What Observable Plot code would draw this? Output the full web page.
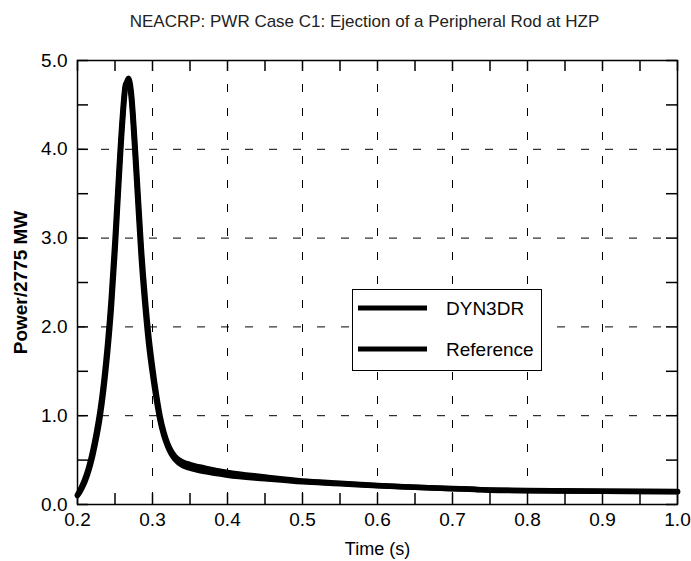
<!DOCTYPE html>
<html><head><meta charset="utf-8">
<script src="https://cdn.jsdelivr.net/npm/d3@7"></script>
<script src="https://cdn.jsdelivr.net/npm/@observablehq/plot@0.6"></script>
<style>
body{margin:0;background:#fff;font-family:"Liberation Sans",Arial,sans-serif;}
#wrap{position:relative;width:691px;height:561px;overflow:hidden;}
#title{height:40px;box-sizing:border-box;padding-top:13px;padding-left:38px;text-align:center;font-size:17px;line-height:18px;color:#222;white-space:nowrap;}
#legend{position:absolute;left:352px;top:289px;width:190px;height:82px;box-sizing:border-box;border:1.5px solid #000;background:#fff;}
</style></head>
<body>
<div id="wrap">
<div id="title">NEACRP: PWR Case C1: Ejection of a Peripheral Rod at HZP</div>
<div id="chart"></div>
<div id="legend"></div>
</div>
<script>
// ---- data ----
const time = [0.200,0.205,0.210,0.215,0.220,0.225,0.230,0.235,0.240,0.245,0.250,0.255,0.260,0.264,0.268,0.272,0.276,0.280,0.285,0.290,0.295,0.300,0.305,0.310,0.315,0.320,0.325,0.330,0.340,0.350,0.370,0.400,0.450,0.500,0.550,0.600,0.650,0.700,0.730,0.750,0.800,0.900,1.000];
const referencePower = [0.10,0.17,0.26,0.38,0.54,0.74,0.98,1.30,1.70,2.20,2.85,3.60,4.30,4.70,4.80,4.62,4.15,3.60,2.90,2.35,1.90,1.55,1.25,1.00,0.82,0.69,0.60,0.54,0.48,0.45,0.41,0.36,0.31,0.265,0.24,0.215,0.195,0.18,0.172,0.162,0.158,0.150,0.145];
const dyn3drPower = [0.11,0.19,0.29,0.42,0.59,0.80,1.05,1.38,1.80,2.32,2.98,3.72,4.38,4.73,4.76,4.55,4.05,3.48,2.78,2.24,1.80,1.47,1.19,0.95,0.78,0.66,0.57,0.51,0.44,0.41,0.37,0.33,0.29,0.255,0.235,0.21,0.193,0.178,0.170,0.160,0.156,0.149,0.144];
const seriesNames = ["DYN3DR","Reference"];
const xTicks = [0.2,0.3,0.4,0.5,0.6,0.7,0.8,0.9,1.0];
const xMinorTicks = [0.25,0.35,0.45,0.55,0.65,0.75,0.85,0.95];
const yTicks = [0,1,2,3,4,5];
const yMinorTicks = [0.5,1.5,2.5,3.5,4.5];
const xGrid = [0.3,0.4,0.5,0.6,0.7,0.8,0.9];
const yGrid = [1,2,3,4];

const rows = [];
time.forEach((t,i)=>{
  rows.push({series:"Reference", t, p: referencePower[i]});
  rows.push({series:"DYN3DR", t, p: dyn3drPower[i]});
});

const W = 691, H = 521, mT = 20, mB = 57, mL = 77, mR = 14;
const plotH = H - mT - mB, plotW = W - mL - mR;
const tick = 11;
const allX = xTicks.concat(xMinorTicks);
const allY = yTicks.concat(yMinorTicks);
const font = '"Liberation Sans", Arial, sans-serif';

const chart = Plot.plot({
  width: W, height: H,
  marginTop: mT, marginBottom: mB, marginLeft: mL, marginRight: mR,
  style: {fontFamily: font, color: "#000", background: "#fff", overflow: "visible"},
  x: {domain: [0.2, 1.0]},
  y: {domain: [0, 5]},
  marks: [
    Plot.ruleX(xGrid, {x: d=>d, stroke: "#000", strokeWidth: 1, strokeDasharray: "8,16"}),
    Plot.ruleY(yGrid, {y: d=>d, stroke: "#000", strokeWidth: 1, strokeDasharray: "8,16"}),
    Plot.ruleX(allX, {x: d=>d, insetTop: plotH - tick, stroke: "#000", strokeWidth: 1.5}),
    Plot.ruleX(allX, {x: d=>d, insetBottom: plotH - tick, stroke: "#000", strokeWidth: 1.5}),
    Plot.ruleY(allY, {y: d=>d, insetRight: plotW - tick, stroke: "#000", strokeWidth: 1.5}),
    Plot.ruleY(allY, {y: d=>d, insetLeft: plotW - tick, stroke: "#000", strokeWidth: 1.5}),
    Plot.line(rows, {x: "t", y: "p", z: "series", stroke: "#000", strokeWidth: 5.5, curve: "monotone-x", strokeLinejoin: "round"}),
    Plot.frame({stroke: "#000", strokeWidth: 1.5}),
    Plot.axisX(xTicks, {tickSize: 0, tickPadding: 8, fontSize: 19, tickFormat: d=>d.toFixed(1), label: null}),
    Plot.axisY(yTicks, {tickSize: 0, tickPadding: 10, fontSize: 19, tickFormat: d=>d.toFixed(1), label: null}),
    Plot.text(["Time (s)"], {frameAnchor: "bottom", dy: 45, text: d=>d, fontSize: 18, textAnchor: "middle", lineAnchor: "middle"}),
    Plot.text(["Power/2775 MW"], {frameAnchor: "left", dx: -57, rotate: -90, text: d=>d, fontSize: 19, fontWeight: "bold", textAnchor: "middle", lineAnchor: "middle"})
  ]
});
document.getElementById("chart").appendChild(chart);

// legend
const lg = d3.select("#legend").append("svg").attr("width", 187).attr("height", 79);
seriesNames.forEach((name, i) => {
  const y = 18 + i * 41;
  lg.append("line").attr("x1", 5).attr("x2", 74).attr("y1", y).attr("y2", y)
    .attr("stroke", "#000").attr("stroke-width", 5);
  lg.append("text").attr("x", 93).attr("y", y).attr("dy", "0.35em")
    .attr("font-size", 19).attr("font-family", font).text(name);
});
</script>
</body></html>
